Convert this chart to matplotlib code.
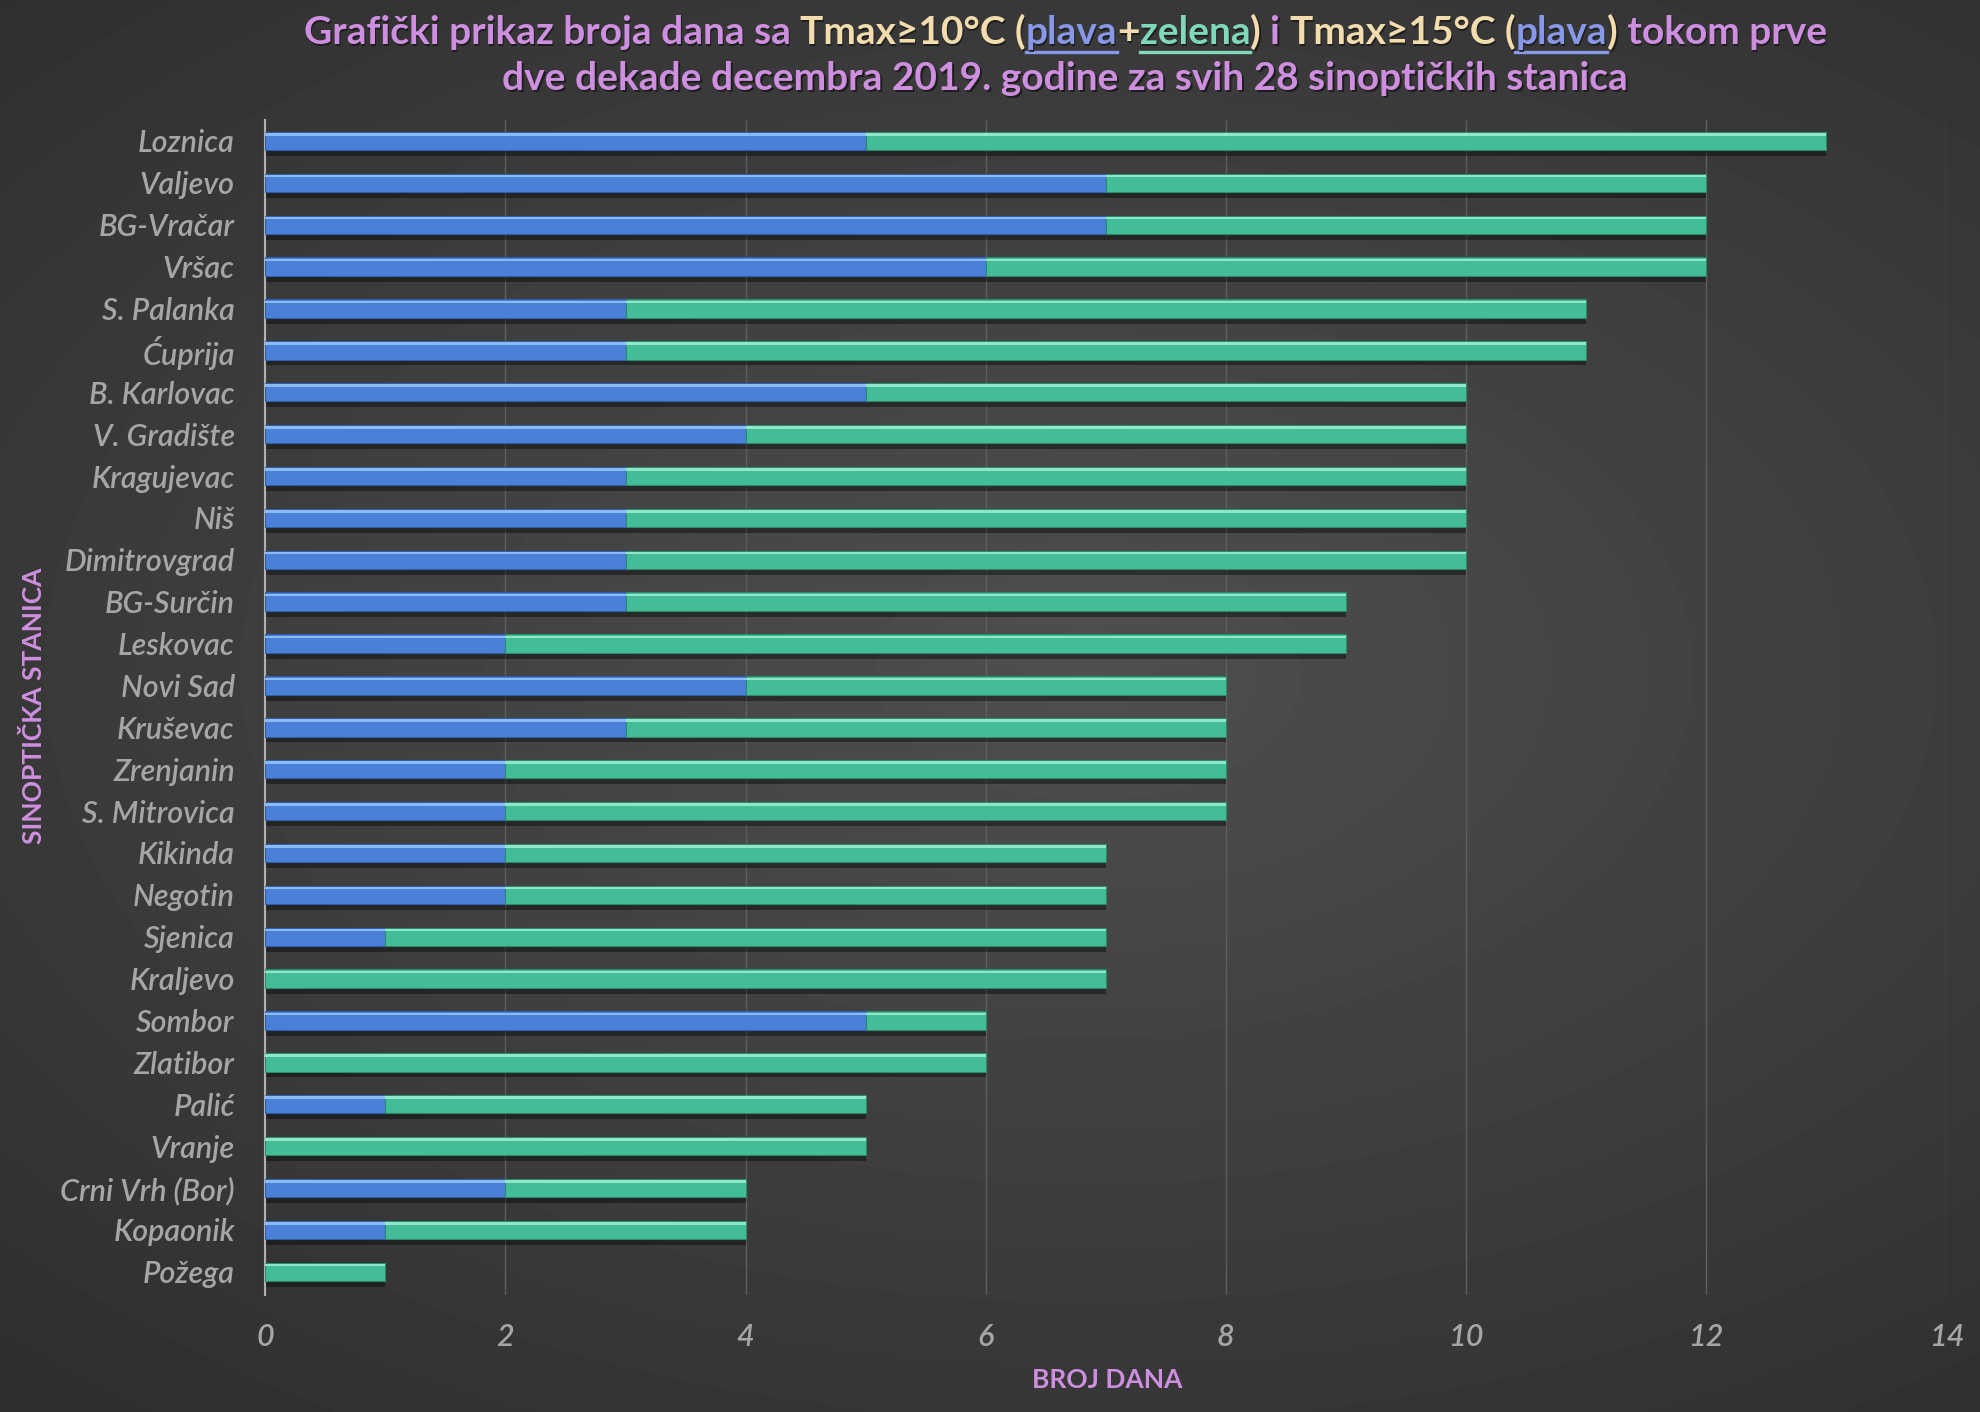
import numpy as np
import matplotlib.pyplot as plt
from matplotlib.lines import Line2D

stanice = ["Loznica", "Valjevo", "BG-Vračar", "Vršac", "S. Palanka", "Ćuprija",
           "B. Karlovac", "V. Gradište", "Kragujevac", "Niš", "Dimitrovgrad",
           "BG-Surčin", "Leskovac", "Novi Sad", "Kruševac", "Zrenjanin",
           "S. Mitrovica", "Kikinda", "Negotin", "Sjenica", "Kraljevo", "Sombor",
           "Zlatibor", "Palić", "Vranje", "Crni Vrh (Bor)", "Kopaonik", "Požega"]
# broj dana sa Tmax>=15 (plava) i ukupno Tmax>=10 (plava+zelena)
dani15 = [5, 7, 7, 6, 3, 3, 5, 4, 3, 3, 3, 3, 2, 4, 3, 2, 2, 2, 2, 1, 0, 5, 0, 1, 0, 2, 1, 0]
dani10 = [13, 12, 12, 12, 11, 11, 10, 10, 10, 10, 10, 9, 9, 8, 8, 8, 8, 7, 7, 7, 7, 6, 6, 5, 5, 4, 4, 1]
xticks = [0, 2, 4, 6, 8, 10, 12, 14]

PINK = "#cf8fe0"
YELLOW = "#f3dcae"
BLUE_T = "#8798e8"
GREEN_T = "#80d8bb"
GRAY = "#a6a6a6"
BLUE = "#4a80d8"
GREEN = "#43bd98"

plt.rcParams['font.family'] = ['Lato', 'DejaVu Sans']

fig = plt.figure(figsize=(19.8, 14.12), dpi=100)

# pozadina sa radijalnim prelazom
bg = fig.add_axes([0, 0, 1, 1], zorder=-10)
gx, gy = np.meshgrid(np.linspace(-1, 1, 400), np.linspace(-1, 1, 300))
r = np.sqrt(((gx - 0.1) * 0.85) ** 2 + ((gy + 0.05) * 1.0) ** 2)
bg.imshow(0.31 - 0.13 * np.clip(r, 0, 1.4) / 1.4, cmap="gray", vmin=0, vmax=1,
          aspect="auto", extent=[0, 1, 0, 1], interpolation="bicubic")
bg.axis("off")

ax = fig.add_axes([0.134, 0.083, 0.849, 0.832])
ax.set_facecolor("none")

y = np.arange(len(stanice))
d15 = np.array(dani15)
d10 = np.array(dani10)
h = 0.44

# senka
ax.barh(y + 0.14, d10, height=h, color="black", alpha=0.4, zorder=2)
ax.barh(y, d15, height=h, color=BLUE, edgecolor="#2f5fa8", linewidth=0.8, zorder=3)
ax.barh(y, d10 - d15, left=d15, height=h, color=GREEN, edgecolor="#2c8a6c", linewidth=0.8, zorder=3)
# odsjaj na vrhu
ax.barh(y - h * 0.36, d15, height=h * 0.14, color="#8cbaf4", linewidth=0, zorder=4)
ax.barh(y - h * 0.36, d10 - d15, left=d15, height=h * 0.14, color="#8fe6c8", linewidth=0, zorder=4)

ax.set_xlim(0, 14)
ax.set_ylim(len(stanice) - 1 + 0.55, -0.5)
ax.set_xticks(xticks)
ax.set_yticks(y)
ax.set_yticklabels(stanice)
ax.tick_params(length=0, colors=GRAY, labelsize=22)
ax.tick_params(axis="x", pad=20)
ax.tick_params(axis="y", pad=22)
for lab in ax.get_xticklabels() + ax.get_yticklabels():
    lab.set_fontstyle("italic")
    lab.set_fontweight("semibold")
ax.grid(axis="x", color="#5e5e5e", linewidth=1.0)
ax.set_axisbelow(True)
for s in ["top", "right", "bottom"]:
    ax.spines[s].set_visible(False)
ax.spines["left"].set_color("#b0b0b0")
ax.spines["left"].set_linewidth(1.5)

fig.text(0.559, 0.023, "BROJ DANA", color=PINK, fontsize=19, fontweight="bold",
         ha="center", va="center")
fig.text(0.017, 0.5, "SINOPTIČKA STANICA", color=PINK, fontsize=19, fontweight="bold",
         ha="center", va="center", rotation=90)

# naslov u više boja
red1 = [("Grafički prikaz broja dana sa ", PINK, False), ("Tmax≥10°C (", YELLOW, False),
        ("plava", BLUE_T, True), ("+", YELLOW, False), ("zelena", GREEN_T, True),
        (") ", YELLOW, False), ("i ", PINK, False), ("Tmax≥15°C (", YELLOW, False),
        ("plava", BLUE_T, True), (")", YELLOW, False), (" tokom prve", PINK, False)]
red2 = [("dve dekade decembra 2019. godine za svih 28 sinoptičkih stanica", PINK, False)]

renderer = fig.canvas.get_renderer()
W = fig.bbox.width
Hf = fig.bbox.height


def naslov(delovi, yc, fs=28, cx=0.538):
    tekstovi = []
    for txt, col, ul in delovi:
        t = fig.text(0, yc, txt, color=col, fontsize=fs, fontweight="bold",
                     va="baseline", ha="left")
        tekstovi.append((t, ul))
    widths = [t.get_window_extent(renderer).width for t, _ in tekstovi]
    x = cx * W - sum(widths) / 2
    for (t, ul), w in zip(tekstovi, widths):
        t.set_x(x / W)
        # senka teksta
        fig.text(x / W + 1.5 / W, yc - 2 / Hf, t.get_text(), color="#181818",
                 fontsize=fs, fontweight="bold", va="baseline", ha="left",
                 zorder=t.get_zorder() - 1, alpha=0.8)
        if ul:
            fig.add_artist(Line2D([x / W, (x + w) / W], [yc - 8 / Hf] * 2,
                                  color=t.get_color(), linewidth=2.4))
        x += w


naslov(red1, 1 - 44 / Hf)
naslov(red2, 1 - 90 / Hf)

fig.savefig("out.png", dpi=100)
